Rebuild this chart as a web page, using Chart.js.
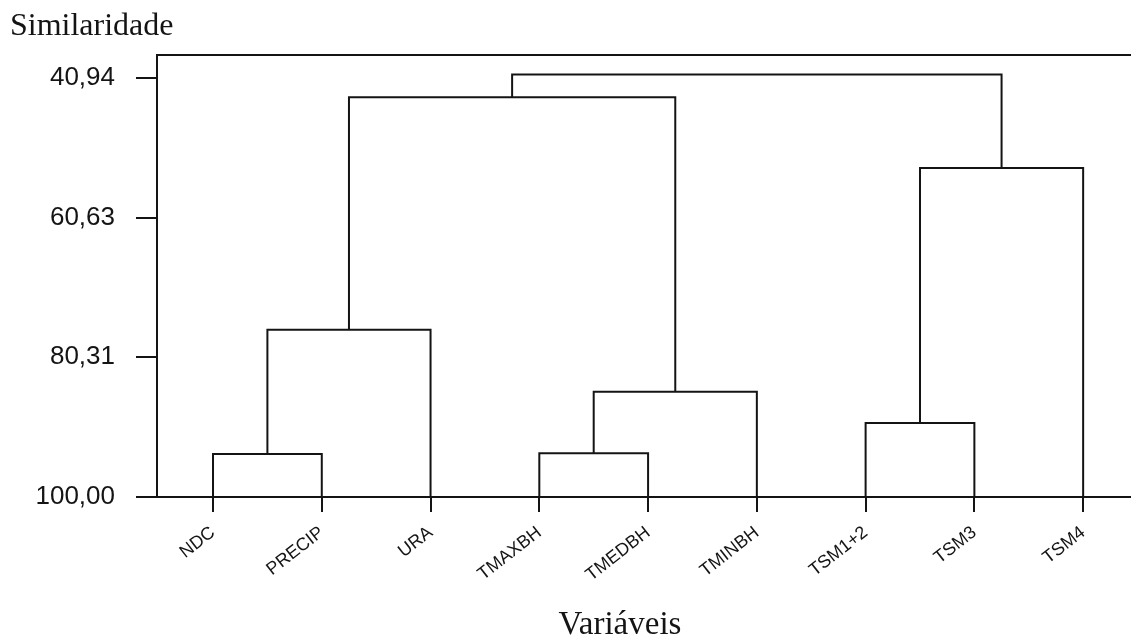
<!DOCTYPE html>
<html>
<head>
<meta charset="utf-8">
<script src="https://cdn.jsdelivr.net/npm/chart.js@4"></script>
<style>
  html, body { margin: 0; padding: 0; background: #fff; }
  #wrap { width: 1131px; height: 637px; }
</style>
</head>
<body>
<div id="wrap"><canvas id="dendro"></canvas></div>
<script>
// leaves of the dendrogram, left to right
const leaves = ['NDC', 'PRECIP', 'URA', 'TMAXBH', 'TMEDBH', 'TMINBH', 'TSM1+2', 'TSM3', 'TSM4'];
// merges: node ids 0-8 are leaves, merge k makes node 9+k
const mergeLeft = [0, 3, 6, 10, 9, 11, 13, 15];
const mergeRight = [1, 4, 7, 5, 2, 8, 12, 14];
const mergeSim = [93.94, 93.84, 89.57, 85.16, 76.42, 53.63, 43.66, 40.45];
// similarity tick labels
const yTicks = [40.94, 60.63, 80.31, 100.00];

const ink = '#141414';
const sans = "'Liberation Sans', Arial, sans-serif";
const serif = "'Liberation Serif', 'Times New Roman', serif";

// node positions (x = leaf index / mid of children, y = similarity)
const nodeX = leaves.map((_, i) => i);
const nodeY = leaves.map(() => 100);
const datasets = [];
mergeLeft.forEach((a, k) => {
    const b = mergeRight[k];
    const h = mergeSim[k];
    datasets.push({
        data: [
            { x: nodeX[a], y: nodeY[a] },
            { x: nodeX[a], y: h },
            { x: nodeX[b], y: h },
            { x: nodeX[b], y: nodeY[b] }
        ],
        borderColor: ink,
        borderWidth: 2,
        pointRadius: 0,
        tension: 0,
        clip: false
    });
    nodeX.push((nodeX[a] + nodeX[b]) / 2);
    nodeY.push(h);
});

// top edge of the frame and the x caption
const frameAndCaption = {
    id: 'frameAndCaption',
    afterDraw(chart) {
        const { ctx, chartArea } = chart;
        ctx.save();
        ctx.strokeStyle = ink;
        ctx.lineWidth = 2;
        ctx.beginPath();
        ctx.moveTo(chartArea.left - 1, chartArea.top);
        ctx.lineTo(chartArea.right, chartArea.top);
        ctx.stroke();
        ctx.fillStyle = ink;
        ctx.font = '33px ' + serif;
        ctx.textAlign = 'center';
        ctx.textBaseline = 'alphabetic';
        ctx.fillText('Variáveis', 620, 634);
        ctx.restore();
    }
};

new Chart(document.getElementById('dendro'), {
    type: 'line',
    data: { datasets },
    plugins: [frameAndCaption],
    options: {
        responsive: true,
        maintainAspectRatio: false,
        devicePixelRatio: 1,
        animation: false,
        layout: { autoPadding: false, padding: { left: 10, right: 0, top: 0, bottom: 0 } },
        plugins: {
            legend: { display: false },
            tooltip: { enabled: false },
            title: {
                display: true,
                text: 'Similaridade',
                align: 'start',
                color: ink,
                font: { family: serif, size: 32, weight: 'normal', lineHeight: 1.2 },
                padding: { top: 7, bottom: 9.6 }
            }
        },
        scales: {
            x: {
                type: 'linear',
                min: -0.515,
                max: 8.44,
                afterBuildTicks: (axis) => { axis.ticks = leaves.map((_, i) => ({ value: i })); },
                afterFit: (axis) => { axis.height = 140; },
                border: { display: true, color: ink, width: 2 },
                grid: { drawOnChartArea: false, drawTicks: true, tickLength: 15, color: ink, lineWidth: 2 },
                ticks: {
                    autoSkip: false,
                    minRotation: 38,
                    maxRotation: 38,
                    padding: 10,
                    color: ink,
                    font: { family: sans, size: 18 },
                    callback: (v) => leaves[v]
                }
            },
            y: {
                type: 'linear',
                reverse: true,
                min: 37.70,
                max: 100,
                afterBuildTicks: (axis) => { axis.ticks = yTicks.map(v => ({ value: v })); },
                afterFit: (axis) => { axis.width = 147; },
                border: { display: true, color: ink, width: 2 },
                grid: { drawOnChartArea: false, drawTicks: true, tickLength: 21, color: ink, lineWidth: 2 },
                ticks: {
                    padding: 21,
                    color: ink,
                    font: { family: sans, size: 26 },
                    callback: (v) => v.toFixed(2).replace('.', ',')
                }
            }
        }
    }
});
</script>
</body>
</html>
